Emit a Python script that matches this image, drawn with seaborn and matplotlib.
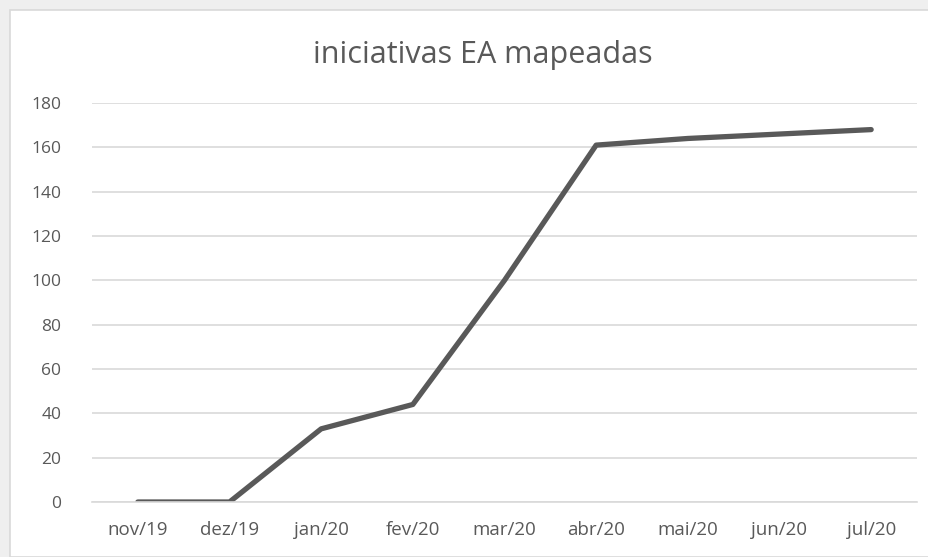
import matplotlib
matplotlib.use("Agg")
import matplotlib.pyplot as plt
import seaborn as sns
import pandas as pd
from matplotlib.patches import Rectangle

# ── DATA ────────────────────────────────────────────────────
months = ['nov/19', 'dez/19', 'jan/20', 'fev/20', 'mar/20',
          'abr/20', 'mai/20', 'jun/20', 'jul/20']
iniciativas = [0, 0, 33, 44, 100, 161, 164, 166, 168]
y_ticks = [0, 20, 40, 60, 80, 100, 120, 140, 160, 180]

df = pd.DataFrame({'mes': months, 'iniciativas': iniciativas})

# ── STYLE ───────────────────────────────────────────────────
sns.set_style('white')
plt.rcParams['font.family'] = ['Open Sans', 'DejaVu Sans']
text_col = '#595959'
grid_col = '#d9d9d9'

fig = plt.figure(figsize=(9.29, 5.57), dpi=100, facecolor='#efefef')
# white chart area with light border (Excel-like frame)
fig.patches.append(Rectangle((10 / 929, 0), 1, 1 - 10 / 557,
                             transform=fig.transFigure, facecolor='white',
                             edgecolor=grid_col, linewidth=1.2, zorder=-10))

ax = fig.add_axes([92 / 929, 1 - 502 / 557, (917 - 92) / 929, (502 - 103) / 557])
ax.set_facecolor('none')

sns.lineplot(data=df, x='mes', y='iniciativas', ax=ax,
             color='#595959', linewidth=3.8, sort=False)

ax.set_xlim(-0.5, len(months) - 0.5)
ax.set_ylim(0, 180)
ax.set_yticks(y_ticks)
ax.yaxis.grid(True, color=grid_col, linewidth=1.2)
ax.set_axisbelow(True)

for side in ['top', 'right', 'left']:
    ax.spines[side].set_visible(False)
ax.spines['bottom'].set_color(grid_col)
ax.spines['bottom'].set_linewidth(1.2)

# category labels at centers, tick marks between categories
ax.set_xticks(range(len(months)))
ax.set_xticklabels(months)
ax.tick_params(axis='x', which='major', length=0, pad=14,
               labelsize=13.5, labelcolor=text_col)
ax.set_xticks([i - 0.5 for i in range(len(months) + 1)], minor=True)
ax.tick_params(axis='x', which='minor', length=6, width=1.2,
               color=grid_col, direction='out')
ax.tick_params(axis='y', length=0, pad=22, labelsize=12.5, labelcolor=text_col)

ax.set_xlabel('')
ax.set_ylabel('')
fig.text(483 / 929, 1 - 55 / 557, 'iniciativas EA mapeadas', ha='center',
         va='center', fontsize=22, color=text_col)

fig.savefig('out.png', dpi=100, facecolor=fig.get_facecolor())
